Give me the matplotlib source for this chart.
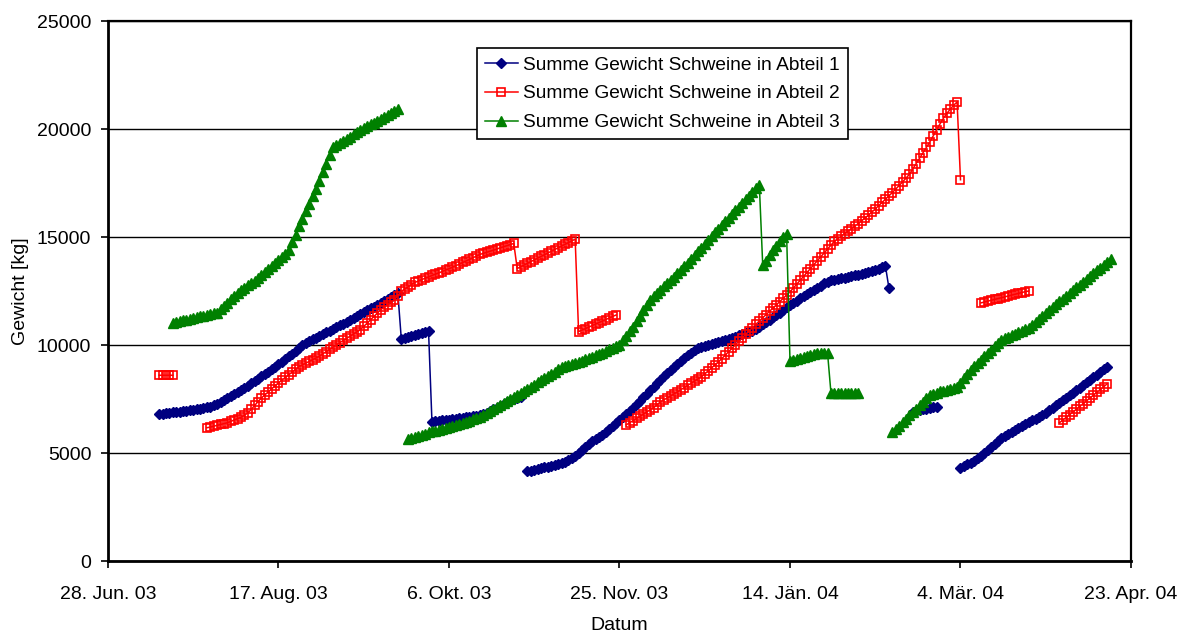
import pandas as pd
import matplotlib
matplotlib.use("Agg")
import matplotlib.pyplot as plt

plt.rcParams['font.family'] = ['Liberation Sans', 'DejaVu Sans']

# daily weight sums per compartment, one list per uninterrupted run
abteil1_starts = ["2003-07-13", "2003-10-29", "2004-02-19", "2004-03-04"]
abteil1_values = [
    [6800, 6820, 6840, 6860, 6880, 6900, 6920, 6940, 6960, 6980, 7000, 7030, 7060, 7090, 7120,
     7150, 7220, 7290, 7350, 7440, 7530, 7620, 7720, 7810, 7900, 8000, 8110, 8220, 8330, 8440,
     8550, 8660, 8770, 8880, 8990, 9100, 9230, 9350, 9480, 9600, 9730, 9850, 9980, 10100, 10180,
     10260, 10340, 10420, 10500, 10580, 10650, 10740, 10820, 10910, 10990, 11080, 11160, 11250,
     11340, 11420, 11510, 11600, 11690, 11770, 11860, 11950, 12040, 12130, 12220, 12310, 12400,
     10300, 10340, 10380, 10420, 10460, 10500, 10550, 10600, 10650,
     6450, 6470, 6490, 6510, 6530, 6550, 6570, 6590, 6610, 6630, 6650, 6670, 6690, 6710, 6750,
     6800, 6870, 6950, 7030, 7100, 7180, 7260, 7340, 7420, 7500, 7550, 7600],
    [4150, 4180, 4210, 4250, 4290, 4330, 4370, 4410, 4450, 4500, 4550, 4600, 4670, 4750, 4850,
     5000, 5150, 5300, 5420, 5550, 5650, 5730, 5820, 5950, 6100, 6240, 6380, 6520, 6660, 6800,
     6950, 7100, 7260, 7420, 7580, 7740, 7900, 8060, 8230, 8390, 8560, 8720, 8860, 9000, 9130,
     9260, 9390, 9520, 9650, 9770, 9880, 9920, 9960, 10000, 10050, 10100, 10150, 10190, 10240,
     10290, 10340, 10390, 10440, 10490, 10540, 10590, 10640, 10740, 10840, 10950, 11060, 11170,
     11280, 11390, 11500, 11620, 11740, 11850, 11960, 12060, 12160, 12260, 12360, 12460, 12560,
     12650, 12750, 12850, 12930, 12990, 13030, 13060, 13090, 13120, 13150, 13180, 13220, 13260,
     13300, 13340, 13390, 13440, 13490, 13540, 13600, 13640, 12650],
    [6900, 6940, 6980, 7020, 7060, 7100, 7130, 7150],
    [4310, 4390, 4470, 4560, 4650, 4760, 4880, 5000, 5130, 5270, 5420, 5560, 5700, 5800, 5890,
     5980, 6070, 6160, 6240, 6330, 6420, 6510, 6590, 6680, 6760, 6860, 6970, 7080, 7200, 7320,
     7440, 7560, 7680, 7790, 7910, 8030, 8150, 8270, 8390, 8510, 8630, 8750, 8870, 9000],
]

abteil2_starts = ["2003-07-13", "2003-07-27", "2003-11-27", "2004-03-10", "2004-04-02"]
abteil2_values = [
    [8600, 8600, 8600, 8600, 8600],
    [6170, 6200, 6240, 6280, 6320, 6360, 6400, 6460, 6530, 6590, 6650, 6750, 6850, 7020, 7200,
     7380, 7550, 7690, 7830, 7970, 8110, 8250, 8370, 8500, 8620, 8750, 8870, 9000, 9080, 9160,
     9240, 9320, 9400, 9480, 9590, 9690, 9800, 9900, 10010, 10110, 10210, 10310, 10410, 10510,
     10610, 10710, 10860, 11010, 11170, 11320, 11480, 11640, 11750, 11870, 11980, 12100, 12290,
     12480, 12590, 12690, 12800, 12900, 12960, 13030, 13090, 13150, 13220, 13280, 13340, 13400,
     13470, 13530, 13600, 13670, 13740, 13820, 13890, 13960, 14040, 14110, 14190, 14240, 14290,
     14340, 14390, 14440, 14500, 14550, 14600, 14650, 14700,
     13540, 13620, 13700, 13780, 13860, 13940, 14020, 14100, 14180, 14260, 14340, 14420, 14500,
     14580, 14660, 14740, 14820, 14900,
     10620, 10690, 10760, 10830, 10900, 10970, 11040, 11110, 11180, 11250, 11320, 11390],
    [6310, 6400, 6500, 6600, 6700, 6800, 6900, 7000, 7100, 7230, 7370, 7460, 7550, 7640, 7740,
     7830, 7930, 8030, 8130, 8230, 8330, 8430, 8530, 8660, 8800, 8940, 9080, 9220, 9370, 9530,
     9690, 9850, 10010, 10170, 10330, 10490, 10650, 10810, 10960, 11110, 11260, 11410, 11560,
     11710, 11860, 12010, 12160, 12310, 12460, 12640, 12820, 13000, 13180, 13360, 13540, 13720,
     13900, 14080, 14260, 14440, 14620, 14800, 14920, 15040, 15160, 15270, 15380, 15500, 15620,
     15750, 15880, 16010, 16150, 16300, 16450, 16600, 16750, 16900, 17060, 17220, 17380, 17550,
     17720, 17900, 18150, 18400, 18650, 18900, 19150, 19400, 19680, 19960, 20240, 20500, 20720,
     20920, 21100, 21250, 17650],
    [11950, 11990, 12030, 12070, 12110, 12150, 12190, 12230, 12270, 12310, 12350, 12390, 12430,
     12470, 12500],
    [6400, 6520, 6650, 6780, 6900, 7030, 7160, 7290, 7420, 7550, 7680, 7810, 7940, 8070, 8200],
]

abteil3_starts = ["2003-07-17", "2003-09-24", "2004-02-13"]
abteil3_values = [
    [11040, 11070, 11110, 11140, 11180, 11210, 11250, 11280, 11320, 11350, 11390, 11420, 11460,
     11500, 11650, 11800, 11960, 12120, 12270, 12430, 12540, 12650, 12760, 12870, 12980, 13100,
     13220, 13360, 13500, 13640, 13780, 13920, 14060, 14200, 14400, 14750, 15100, 15500, 15850,
     16200, 16550, 16880, 17200, 17600, 18000, 18400, 18800, 19150, 19250, 19350, 19450, 19550,
     19650, 19750, 19850, 19950, 20040, 20130, 20220, 20300, 20390, 20480, 20570, 20660, 20740,
     20830, 20920],
    [5650, 5700, 5750, 5800, 5850, 5900, 5950, 6000, 6040, 6080, 6120, 6160, 6200, 6250, 6300,
     6350, 6400, 6450, 6500, 6560, 6620, 6680, 6770, 6860, 6950, 7040, 7130, 7220, 7310, 7400,
     7490, 7580, 7670, 7760, 7860, 7960, 8070, 8170, 8270, 8370, 8470, 8570, 8670, 8770, 8870,
     8960, 9010, 9060, 9110, 9160, 9220, 9280, 9340, 9400, 9460, 9520, 9580, 9650, 9720, 9800,
     9880, 9950, 10020, 10220, 10430, 10640, 10850, 11100, 11350, 11600, 11850, 12100, 12250,
     12400, 12550, 12710, 12860, 13020, 13170, 13330, 13480, 13640, 13810, 13990, 14160, 14340,
     14510, 14690, 14860, 15040, 15210, 15390, 15560, 15730, 15900, 16070, 16240, 16410, 16580,
     16750, 16920, 17090, 17260, 17430,
     13700, 13900, 14150, 14400, 14600, 14800, 15000, 15150,
     9250, 9300, 9350, 9400, 9450, 9500, 9540, 9580, 9610, 9630, 9640, 9650,
     7800, 7800, 7800, 7800, 7800, 7800, 7800, 7800, 7800],
    [5950, 6100, 6260, 6420, 6580, 6740, 6900, 7060, 7220, 7380, 7540, 7700, 7750, 7800, 7850,
     7890, 7930, 7970, 8010, 8070, 8260, 8460, 8660, 8860, 9010, 9170, 9320, 9480, 9630, 9790,
     9940, 10100, 10250, 10320, 10390, 10460, 10530, 10600, 10660, 10730, 10800, 10940, 11070,
     11210, 11350, 11480, 11620, 11760, 11890, 12030, 12150, 12280, 12410, 12540, 12670, 12800,
     12930, 13060, 13190, 13320, 13450, 13580, 13710, 13840, 13960],
]

tick_dates = ["2003-06-28", "2003-08-17", "2003-10-06", "2003-11-25",
              "2004-01-14", "2004-03-04", "2004-04-23"]
tick_labels = ["28. Jun. 03", "17. Aug. 03", "6. Okt. 03", "25. Nov. 03",
               "14. Jän. 04", "4. Mär. 04", "23. Apr. 04"]

labels = ["Summe Gewicht Schweine in Abteil 1",
          "Summe Gewicht Schweine in Abteil 2",
          "Summe Gewicht Schweine in Abteil 3"]

full_range = pd.date_range("2003-06-28", "2004-04-23", freq="D")


def to_series(starts, values):
    # stitch runs onto one daily index; missing days stay NaN so lines break
    parts = [pd.Series(v, index=pd.date_range(s, periods=len(v), freq="D"), dtype=float)
             for s, v in zip(starts, values)]
    return pd.concat(parts).reindex(full_range)


s1 = to_series(abteil1_starts, abteil1_values)
s2 = to_series(abteil2_starts, abteil2_values)
s3 = to_series(abteil3_starts, abteil3_values)

fig = plt.figure(figsize=(11.8, 6.32), dpi=100)
ax = fig.add_axes([108 / 1180, 1 - 561 / 632, 1023 / 1180, 540 / 632])

ax.plot(s1.index, s1.values, color="#000080", lw=1.1, marker="D", ms=5,
        mfc="#000080", mec="#000080", label=labels[0])
ax.plot(s2.index, s2.values, color="#ff0000", lw=1.1, marker="s", ms=5.5,
        mfc="none", mec="#ff0000", mew=1.2, label=labels[1])
ax.plot(s3.index, s3.values, color="#008000", lw=1.1, marker="^", ms=6.5,
        mfc="#008000", mec="#008000", label=labels[2])

ax.set_xlim(pd.Timestamp(tick_dates[0]), pd.Timestamp(tick_dates[-1]))
ax.set_ylim(0, 25000)
ax.set_yticks(range(0, 25001, 5000))
ax.set_xticks([pd.Timestamp(d) for d in tick_dates])
ax.set_xticklabels(tick_labels)

ax.grid(axis="y", color="black", lw=1)
ax.set_axisbelow(True)
for side in ["left", "bottom"]:
    ax.spines[side].set_linewidth(2)
for side in ["top", "right"]:
    ax.spines[side].set_linewidth(1.6)
ax.tick_params(axis="both", direction="out", length=5, width=1.2, labelsize=14, colors="black")
ax.tick_params(axis="x", pad=13)
ax.tick_params(axis="y", pad=7)

ax.set_xlabel("Datum", fontsize=14, labelpad=10)
ax.set_ylabel("Gewicht [kg]", fontsize=14, labelpad=6)

leg = ax.legend(loc="upper left", bbox_to_anchor=(477 / 1180, 1 - 48 / 632),
                bbox_transform=fig.transFigure, borderaxespad=0, fancybox=False,
                edgecolor="black", framealpha=1, fontsize=13.75, handlelength=1.7,
                handletextpad=0.3, labelspacing=0.6, borderpad=0.43)
leg.get_frame().set_linewidth(1.2)

plt.savefig("out.png", dpi=100)
